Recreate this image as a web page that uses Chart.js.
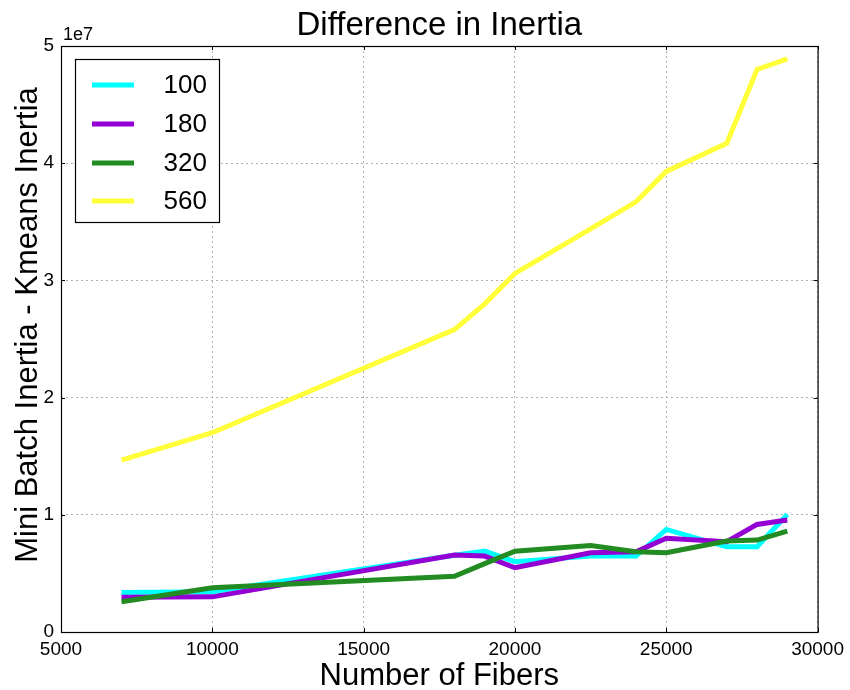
<!DOCTYPE html>
<html>
<head>
<meta charset="utf-8">
<title>Difference in Inertia</title>
<script src="https://cdn.jsdelivr.net/npm/chart.js@4.4.1/dist/chart.umd.min.js"></script>
<style>
	html, body { margin: 0; padding: 0; background: #fff; }
	#wrap { width: 850px; height: 690px; }
</style>
</head>
<body>
<div id="wrap"><canvas id="inertiaChart" width="850" height="690"></canvas></div>
<script>
// values, y in units of 1e7
const fibers = [7000, 10000, 18000, 19000, 20000, 22500, 24000, 25000, 27000, 28000, 29000];
const batch100 = [0.338, 0.344, 0.655, 0.69, 0.60, 0.648, 0.648, 0.875, 0.727, 0.727, 1.003];
const batch180 = [0.296, 0.30, 0.656, 0.648, 0.548, 0.676, 0.685, 0.80, 0.77, 0.918, 0.955];
const batch320 = [0.258, 0.378, 0.475, 0.583, 0.69, 0.738, 0.685, 0.676, 0.776, 0.784, 0.861];
const batch560 = [1.467, 1.70, 2.58, 2.80, 3.06, 3.44, 3.67, 3.93, 4.17, 4.80, 4.89];
const seriesLabels = ['100', '180', '320', '560'];
const xTicks = [5000, 10000, 15000, 20000, 25000, 30000];
const yTicks = [0, 1, 2, 3, 4, 5];

const colors = ['#00ffff', '#9400d3', '#228b22', '#ffff3a'];
const fontFamily = '"Liberation Sans", Arial, Helvetica, sans-serif';

const toPoints = (ys) => fibers.map((x, i) => ({ x, y: ys[i] * 1e7 }));

const allSeries = [batch100, batch180, batch320, batch560];
const datasets = allSeries.map((ys, i) => ({
	label: seriesLabels[i],
	data: toPoints(ys),
	borderColor: colors[i],
	backgroundColor: colors[i],
	borderWidth: 5,
	pointRadius: 0,
	tension: 0,
	fill: false,
	order: allSeries.length - i, // later series drawn on top, like matplotlib
}));

// title, axis labels, 1e7 offset text, closing frame, inner ticks and the boxed legend
const decorations = {
	id: 'decorations',
	afterDraw(chart) {
		const { ctx, chartArea: a, scales } = chart;
		ctx.save();

		ctx.fillStyle = '#000';
		ctx.font = `33px ${fontFamily}`;
		ctx.textAlign = 'center';
		ctx.textBaseline = 'alphabetic';
		ctx.fillText('Difference in Inertia', (a.left + a.right) / 2, 35);

		ctx.font = `31px ${fontFamily}`;
		ctx.fillText('Number of Fibers', (a.left + a.right) / 2, 685);

		ctx.save();
		ctx.translate(37, 325);
		ctx.rotate(-Math.PI / 2);
		ctx.fillText('Mini Batch Inertia - Kmeans Inertia', 0, 0);
		ctx.restore();

		ctx.font = `18px ${fontFamily}`;
		ctx.textAlign = 'left';
		ctx.fillText('1e7', a.left + 2, a.top - 6);

		// inner tick marks
		ctx.strokeStyle = '#000';
		ctx.lineWidth = 1;
		ctx.beginPath();
		scales.x.ticks.forEach((t) => {
			const px = Math.round(scales.x.getPixelForValue(t.value)) + 0.5;
			ctx.moveTo(px, a.bottom); ctx.lineTo(px, a.bottom - 4);
			ctx.moveTo(px, a.top); ctx.lineTo(px, a.top + 4);
		});
		scales.y.ticks.forEach((t) => {
			const py = Math.round(scales.y.getPixelForValue(t.value)) + 0.5;
			ctx.moveTo(a.left, py); ctx.lineTo(a.left + 4, py);
			ctx.moveTo(a.right, py); ctx.lineTo(a.right - 4, py);
		});
		ctx.stroke();

		// frame
		ctx.lineWidth = 1.2;
		ctx.strokeRect(a.left + 0.5, a.top + 0.5, a.right - a.left, a.bottom - a.top);

		// legend
		const lx = 75, ly = 59, lw = 144, lh = 163;
		ctx.fillStyle = '#fff';
		ctx.fillRect(lx, ly, lw, lh);
		ctx.lineWidth = 1.2;
		ctx.strokeStyle = '#000';
		ctx.strokeRect(lx + 0.5, ly + 0.5, lw, lh);
		const rows = [85, 124, 163, 201];
		ctx.font = `26px ${fontFamily}`;
		ctx.textAlign = 'right';
		ctx.textBaseline = 'middle';
		chart.data.datasets.forEach((ds, i) => {
			ctx.strokeStyle = ds.borderColor;
			ctx.lineWidth = 5;
			ctx.beginPath();
			ctx.moveTo(92, rows[i]);
			ctx.lineTo(134, rows[i]);
			ctx.stroke();
			ctx.fillStyle = '#000';
			ctx.fillText(ds.label, 207, rows[i] + 1);
		});

		ctx.restore();
	},
};

new Chart(document.getElementById('inertiaChart'), {
	type: 'line',
	data: { datasets },
	options: {
		responsive: false,
		animation: false,
		events: [],
		layout: { padding: { top: 46, right: 32, bottom: 0, left: 0 } },
		plugins: {
			legend: { display: false },
			title: { display: false },
			tooltip: { enabled: false },
		},
		scales: {
			x: {
				type: 'linear',
				min: 5000,
				max: 30000,
				afterBuildTicks: (scale) => { scale.ticks = xTicks.map((v) => ({ value: v })); },
				afterFit: (scale) => { scale.height = 58; },
				ticks: {
					color: '#000',
					font: { family: fontFamily, size: 19 },
					padding: 6,
					maxRotation: 0,
					callback: (v) => String(v),
				},
				grid: {
					color: '#b0b0b0',
					lineWidth: 1,
					drawTicks: false,
				},
				border: { display: false, dash: [2, 3] },
			},
			y: {
				type: 'linear',
				min: 0,
				max: 5e7,
				afterBuildTicks: (scale) => { scale.ticks = yTicks.map((v) => ({ value: v * 1e7 })); },
				afterFit: (scale) => { scale.width = 61; },
				ticks: {
					color: '#000',
					font: { family: fontFamily, size: 19 },
					padding: 7,
					callback: (v) => String(v / 1e7),
				},
				grid: {
					color: '#b0b0b0',
					lineWidth: 1,
					drawTicks: false,
				},
				border: { display: false, dash: [2, 3] },
			},
		},
	},
	plugins: [decorations],
});
</script>
</body>
</html>
